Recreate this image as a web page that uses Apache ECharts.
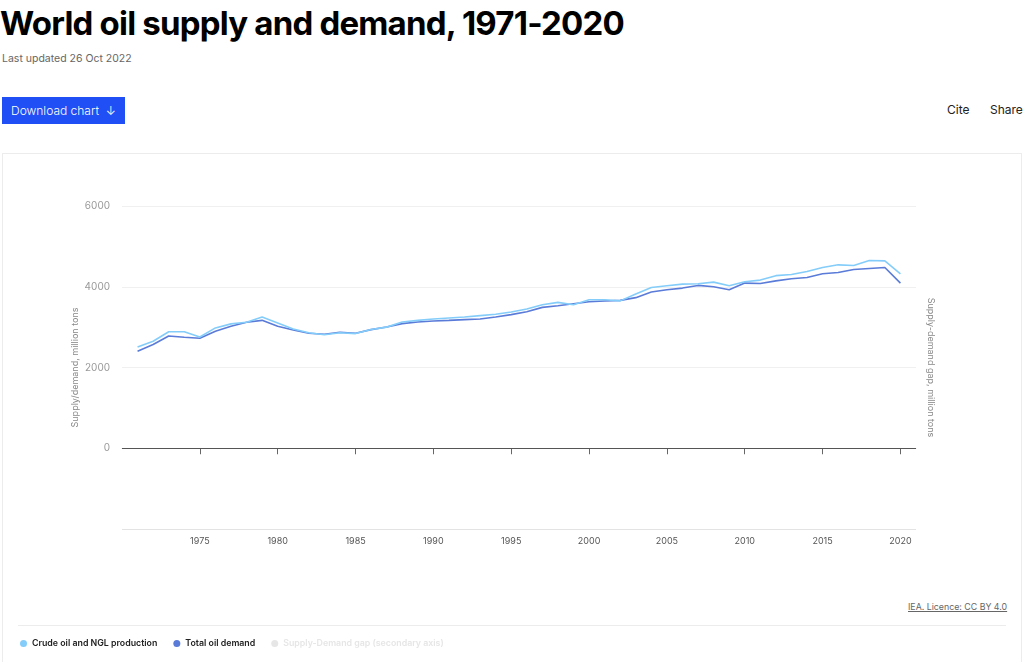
<!DOCTYPE html>
<html>
<head>
<meta charset="utf-8">
<script src="https://cdn.jsdelivr.net/npm/echarts@6/dist/echarts.min.js"></script>
<style>
  html, body { margin: 0; padding: 0; background: #fff; width: 1024px; height: 662px; overflow: hidden; font-family: Inter, "Noto Sans", sans-serif; }
  #title { position: absolute; left: 0; top: 3px; font-size: 33px; font-weight: 700; color: #000; letter-spacing: -0.8px; margin: 0; line-height: 40px; white-space: nowrap; }
  #updated { position: absolute; left: 2px; top: 52px; font-size: 10.5px; color: #666; }
  #btn { position: absolute; left: 2px; top: 97px; width: 123px; height: 27px; background: #1f4ff5; color: #fff; font-size: 12px; font-weight: 300; line-height: 27px; text-indent: 9px; box-sizing: border-box; white-space: nowrap; }
  #cite { position: absolute; left: 947px; top: 102px; font-size: 12px; color: #222; }
  #share { position: absolute; left: 990px; top: 102px; font-size: 12px; color: #222; }
  #frame { position: absolute; left: 2px; top: 153px; width: 1020px; height: 520px; border: 1px solid #ececec; box-sizing: border-box; }
  #chart { position: absolute; left: 3px; top: 154px; width: 1018px; height: 507px; }
  #source { position: absolute; left: 908px; top: 601px; font-size: 8.8px; color: #666; text-decoration: underline; white-space: nowrap; }
  #sep { position: absolute; left: 18px; top: 625px; width: 988px; height: 1px; background: #ececec; }
</style>
</head>
<body>
<div id="title">World oil supply and demand, 1971-2020</div>
<div id="updated">Last updated 26 Oct 2022</div>
<div id="btn">Download chart &nbsp;↓</div>
<div id="cite">Cite</div>
<div id="share">Share</div>
<div id="frame"></div>
<div id="source">IEA. Licence: CC BY 4.0</div>
<div id="sep"></div>
<div id="chart"></div>
<script>
const years = [1971,1972,1973,1974,1975,1976,1977,1978,1979,1980,
  1981,1982,1983,1984,1985,1986,1987,1988,1989,1990,
  1991,1992,1993,1994,1995,1996,1997,1998,1999,2000,
  2001,2002,2003,2004,2005,2006,2007,2008,2009,2010,
  2011,2012,2013,2014,2015,2016,2017,2018,2019,2020];
const production = [2510,2650,2885,2885,2755,2980,3080,3120,3250,3105,
  2955,2860,2810,2860,2840,2940,3000,3128,3168,3200,
  3225,3250,3284,3317,3375,3449,3556,3613,3556,3679,
  3679,3650,3820,3983,4025,4066,4074,4115,4025,4123,
  4165,4275,4304,4378,4477,4543,4526,4650,4642,4321];
const demand = [2403,2568,2782,2749,2724,2897,3020,3119,3168,3020,
  2930,2850,2823,2872,2847,2938,3004,3086,3128,3152,
  3168,3185,3202,3251,3309,3383,3489,3531,3580,3630,
  3646,3662,3730,3868,3926,3967,4033,4000,3926,4091,
  4082,4145,4197,4230,4321,4353,4427,4452,4477,4091];
const gap = [];
const xTicks = [1975,1980,1985,1990,1995,2000,2005,2010,2015,2020];
const yTicks = [0,2000,4000,6000];
const seriesNames = ['Crude oil and NGL production','Total oil demand','Supply-Demand gap (secondary axis)'];

const chart = echarts.init(document.getElementById('chart'), null, {renderer: 'canvas'});
const pair = arr => years.map((y, i) => [y, arr[i]]);
chart.setOption({
  animation: false,
  textStyle: { fontFamily: 'Inter, "Noto Sans", sans-serif' },
  grid: { left: 119, right: 105, top: 52, bottom: 132 },
  legend: {
    left: 12, top: 480, icon: 'circle', itemWidth: 7, itemHeight: 7, itemGap: 16,
    textStyle: { fontSize: 8.8, color: '#222', fontWeight: 600 },
    inactiveColor: '#e6e6e6', inactiveBorderColor: '#e6e6e6',
    selected: { 'Supply-Demand gap (secondary axis)': false },
    data: seriesNames
  },
  xAxis: {
    type: 'value', min: 1970, max: 2021, interval: 5,
    axisLine: { show: true, lineStyle: { color: '#e3e3e3', width: 1 } },
    axisTick: { show: true, length: 6, lineStyle: { color: '#666' }, customValues: xTicks },
    axisLabel: { color: '#555', fontSize: 9, margin: 8, customValues: xTicks, formatter: v => String(v) },
    splitLine: { show: false }
  },
  yAxis: [{
    type: 'value', min: -2000, max: 6000, interval: 2000,
    name: 'Supply/demand, million tons', nameLocation: 'middle', nameGap: 42, nameRotate: 90, nameMoveOverlap: false,
    nameTextStyle: { color: '#888', fontSize: 9 },
    axisLine: { show: false }, axisTick: { show: false },
    axisLabel: { color: '#999', fontSize: 10, margin: 12, customValues: yTicks, formatter: v => String(v) },
    splitLine: { lineStyle: { color: ['#e3e3e3', '#555', '#f0f0f0', '#f0f0f0', '#f0f0f0'], width: 1 } }
  }, {
    type: 'value', min: -2000, max: 6000, position: 'right',
    name: 'Supply-demand gap, million tons', nameLocation: 'middle', nameGap: 10, nameRotate: -90,
    nameTextStyle: { color: '#888', fontSize: 9 },
    axisLine: { show: false }, axisTick: { show: false }, axisLabel: { show: false }, splitLine: { show: false }
  }],
  series: [
    { name: seriesNames[0], type: 'line', data: pair(production), showSymbol: false, symbol: 'none',
      lineStyle: { color: '#84cdfa', width: 1.6 }, itemStyle: { color: '#84cdfa' }, z: 3,
      markLine: { silent: true, symbol: 'none', label: { show: false }, lineStyle: { color: '#555', width: 1.2, type: 'solid' }, data: [{ yAxis: 0 }] } },
    { name: seriesNames[1], type: 'line', data: pair(demand), showSymbol: false, symbol: 'none',
      lineStyle: { color: '#5a7bd8', width: 1.6 }, itemStyle: { color: '#5a7bd8' }, z: 2 },
    { name: seriesNames[2], type: 'line', yAxisIndex: 1, data: gap, showSymbol: false,
      lineStyle: { color: '#d0d0d0' }, itemStyle: { color: '#d0d0d0' } }
  ]
});
</script>
</body>
</html>
